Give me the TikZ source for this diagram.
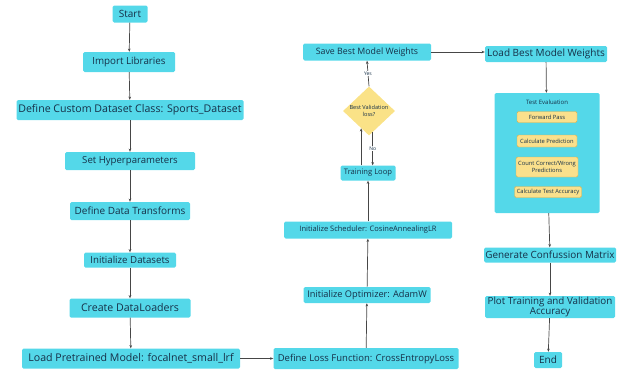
\documentclass[tikz,border=0pt]{standalone}
\usepackage{fontspec}
\setmainfont{Open Sans}
\usetikzlibrary{shapes.geometric,arrows.meta,calc}
\definecolor{boxc}{RGB}{84,216,233}
\definecolor{txtc}{RGB}{22,48,72}
\definecolor{linec}{RGB}{70,70,70}
\definecolor{diac}{RGB}{250,226,135}
\definecolor{inc}{RGB}{250,224,140}
\definecolor{inb}{RGB}{226,176,70}
\begin{document}
\begin{tikzpicture}[x=1pt,y=-1pt,
  box/.style={fill=boxc, text=txtc, rounded corners=1.5pt, inner sep=0pt, align=center, font=\fontsize{10}{10}\selectfont},
  fs/.style={font=\fontsize{#1}{#1}\selectfont},
  inbox/.style={fill=inc, draw=inb, line width=0.4pt, text=txtc, rounded corners=1.5pt, inner sep=0pt, align=center, font=\fontsize{5.8}{5.6}\selectfont},
  arr/.style={draw=linec, line width=0.7pt, -{Stealth[length=3.2pt,width=2.6pt]}},
  lab/.style={fill=white, inner sep=0.8pt, text=txtc, font=\fontsize{5}{5}\selectfont}]
\useasboundingbox (0,0) rectangle (617,380);
% left column
\node[box, minimum width=35, minimum height=17] (start) at (130,14) {Start};
\node[box, fs=9.8, minimum width=92, minimum height=20] (imp) at (129,62) {Import Libraries};
\node[box, fs=10.6, minimum width=227, minimum height=20] (dcd) at (130,110) {Define Custom Dataset Class: Sports\_Dataset};
\node[box, fs=9.6, minimum width=130, minimum height=18] (hyp) at (130,161) {Set Hyperparameters};
\node[box, minimum width=120, minimum height=18] (dtr) at (130,211) {Define Data Transforms};
\node[box, fs=9.7, minimum width=92, minimum height=15] (ids) at (130,260) {Initialize Datasets};
\node[box, fs=10.6, minimum width=121, minimum height=19] (cdl) at (130,308) {Create DataLoaders};
\node[box, fs=10.6, minimum width=218, minimum height=20] (lpm) at (131,358.5) {Load Pretrained Model: focalnet\_small\_lrf};
% middle column
\node[box, fs=9.5, minimum width=185, minimum height=21] (loss) at (366,358.5) {Define Loss Function: CrossEntropyLoss};
\node[box, fs=9.2, minimum width=127, minimum height=16] (opt) at (367,295) {Initialize Optimizer: AdamW};
\node[box, fs=7.5, minimum width=168, minimum height=17] (sch) at (368,230) {Initialize Scheduler: CosineAnnealingLR};
\node[box, fs=7.6, minimum width=55, minimum height=15] (tl) at (368,173) {Training Loop};
\node[diamond, fill=diac, inner sep=0pt, minimum width=52, minimum height=49] (dia) at (369,111) {};
\node[text=txtc, inner sep=0pt, align=center, font=\fontsize{5.6}{6.4}\selectfont] (dial) at (369,111) {Best Validation\\loss?};
\node[box, fs=8.8, minimum width=128, minimum height=17] (save) at (367,52) {Save Best Model Weights};
% right column
\node[box, minimum width=122, minimum height=16] (load) at (546,54) {Load Best Model Weights};
\node[box, minimum width=105, minimum height=120] (te) at (547,153) {};
\node[text=txtc, font=\fontsize{6}{6}\selectfont, inner sep=0pt] (tel) at (547,102) {Test Evaluation};
\node[inbox, minimum width=60, minimum height=11] (fp) at (547,117) {Forward Pass};
\node[inbox, minimum width=60, minimum height=12] (cp) at (547,141) {Calculate Prediction};
\node[inbox, minimum width=62, minimum height=20] (cc) at (547,167) {Count Correct/Wrong\\Predictions};
\node[inbox, minimum width=67, minimum height=11] (cta) at (548,192) {Calculate Test Accuracy};
\node[box, fs=9.9, minimum width=132, minimum height=15] (gcm) at (550,255) {Generate Confussion Matrix};
\node[box, font=\fontsize{9.8}{8.5}\selectfont, minimum width=130, minimum height=22] (plot) at (550,307) {Plot Training and Validation\\Accuracy};
\node[box, minimum width=28, minimum height=16] (end) at (548,360) {End};
% connectors
\draw[arr] (start) -- (imp);
\draw[arr] (imp) -- (dcd);
\draw[arr] (dcd) -- (hyp);
\draw[arr] (hyp) -- (dtr);
\draw[arr] (dtr) -- (ids);
\draw[arr] (ids) -- (cdl);
\draw[arr] (cdl) -- (lpm);
\draw[arr] (lpm) -- (loss);
\draw[arr] (loss) -- (opt);
\draw[arr] (opt) -- (sch);
\draw[arr] (sch) -- (tl);
\coordinate (dup) at ($(dia.south)!0.3!(dia.west)$);
\coordinate (ddn) at ($(dia.south)!0.14!(dia.east)$);
\draw[arr] (tl.north -| dup) -- (dup);
\draw[arr] (ddn) -- (ddn |- tl.north) node[lab, midway] {No};
\draw[arr] (dia.north) -- (save.south) node[lab, midway] {Yes};
\draw[arr] (save.east) -- (save.east -| load.west);
\draw[arr] (load) -- (te);
\draw[arr] (te) -- (gcm);
\draw[arr] (gcm) -- (plot);
\draw[arr] (plot) -- (end);
\end{tikzpicture}
\end{document}
